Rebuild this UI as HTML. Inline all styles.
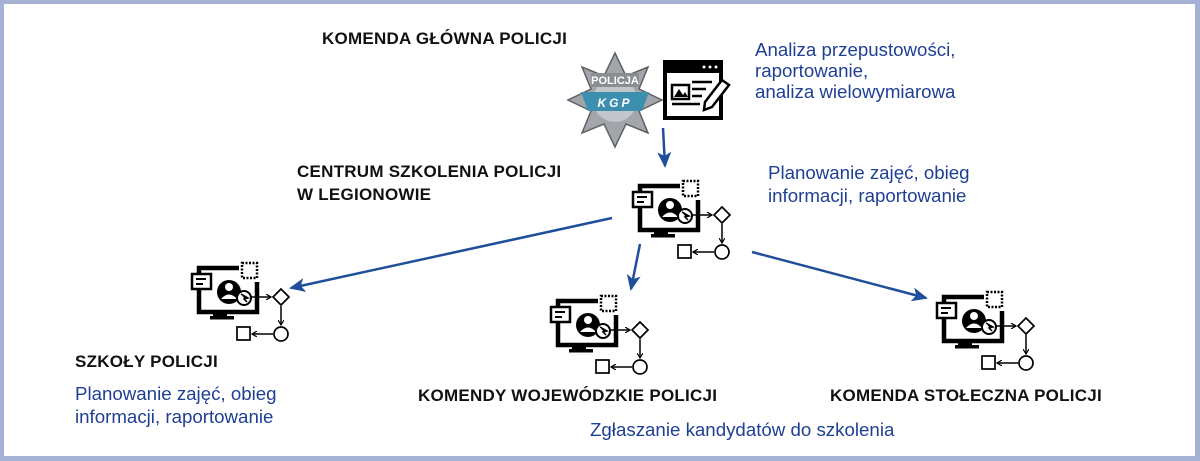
<!DOCTYPE html>
<html><head><meta charset="utf-8"><style>
html,body{margin:0;padding:0;}
body{width:1200px;height:461px;overflow:hidden;background:#fff;position:relative;font-family:"Liberation Sans",sans-serif;}
.frame{position:absolute;left:0;top:0;width:1200px;height:461px;box-sizing:border-box;border-left:4px solid #a5b2d5;border-top:4px solid #a5b2d5;border-right:5px solid #a5b2d5;border-bottom:5px solid #a5b2d5;}
.t{position:absolute;white-space:nowrap;}
.b{font-weight:bold;font-size:17px;letter-spacing:0.25px;color:#111;}
.bl{font-size:18.7px;letter-spacing:0;color:#1f3f94;line-height:21px;}
</style></head><body>
<div class="frame"></div>
<svg width="1200" height="461" style="position:absolute;left:0;top:0">
<defs>
<marker id="ah" markerWidth="16" markerHeight="14" refX="14" refY="7" orient="auto" markerUnits="userSpaceOnUse" viewBox="0 0 16 14"><path d="M0,0 L16,7 L0,14 L4,7z" fill="#1f4e9a"/></marker>
<marker id="sa" markerWidth="6" markerHeight="6" refX="5" refY="3" orient="auto" markerUnits="userSpaceOnUse"><path d="M0,0 L5,3 L0,6" fill="none" stroke="#000" stroke-width="1.2"/></marker>
<g id="ic">
<rect x="683" y="181" width="15" height="15" fill="none" stroke="#000" stroke-width="2.5" stroke-dasharray="2,1.5"/>
<path d="M680,186 H640 V230 H698 V200" fill="none" stroke="#000" stroke-width="4.5"/>
<rect x="654" y="230" width="14" height="5" fill="#000"/>
<rect x="651" y="234" width="24" height="3.5" fill="#000"/>
<rect x="633" y="192" width="19" height="15" fill="#fff" stroke="#000" stroke-width="2.5"/>
<line x1="637" y1="197" x2="647" y2="197" stroke="#000" stroke-width="2"/>
<line x1="637" y1="202" x2="644" y2="202" stroke="#000" stroke-width="2"/>
<circle cx="670" cy="210" r="12" fill="#000"/>
<circle cx="670" cy="205" r="4" fill="#fff"/>
<path d="M662,217 Q670,208 678,217z" fill="#fff"/>
<circle cx="685" cy="216" r="7" fill="#fff" stroke="#000" stroke-width="2"/>
<path d="M682,212 L689,216 L685,217 L688,220" fill="#000" stroke="#000" stroke-width="1.5"/>
<line x1="692" y1="215" x2="712" y2="215" stroke="#000" stroke-width="1.5" marker-end="url(#sa)"/>
<path d="M722,207 L730,215 L722,223 L714,215z" fill="#fff" stroke="#000" stroke-width="1.7"/>
<line x1="722" y1="224" x2="722" y2="243" stroke="#000" stroke-width="1.5" marker-end="url(#sa)"/>
<circle cx="722" cy="252" r="7" fill="#fff" stroke="#000" stroke-width="1.7"/>
<line x1="714" y1="252" x2="693" y2="252" stroke="#000" stroke-width="1.5" marker-end="url(#sa)"/>
<rect x="678" y="245" width="13" height="13" fill="#fff" stroke="#000" stroke-width="1.7"/>
</g>
</defs>
<use href="#ic"/>
<use href="#ic" transform="translate(-441,82)"/>
<use href="#ic" transform="translate(-82,115)"/>
<use href="#ic" transform="translate(304,111)"/>
<g transform="translate(615,100)">
<polygon points="0,-47 11,-24 33,-33 24,-11 47,0 24,11 33,33 11,24 0,47 -11,24 -33,33 -24,11 -47,0 -24,-11 -33,-33 -11,-24" fill="#a2a6ab" stroke="#5e6266" stroke-width="1.5"/>
<circle r="22" fill="#c3c6ca"/>
<rect x="-24" y="-27" width="48" height="14" fill="#8a8e92"/>
<text x="0" y="-16" font-size="11" font-family="Liberation Sans" fill="#fff" text-anchor="middle" font-weight="bold">POLICJA</text>
<path d="M-34,-8 L34,-8 L27,11 L-27,11z" fill="#3d8fb0"/>
<text x="0" y="7" font-size="12" font-family="Liberation Sans" fill="#fff" text-anchor="middle" font-weight="bold" font-style="italic" letter-spacing="3">KGP</text>
</g>
<rect x="663" y="60" width="60" height="60" fill="#000"/>
<rect x="667" y="73" width="52" height="43" fill="#fff"/>
<circle cx="704" cy="67" r="1.5" fill="#fff"/><circle cx="710" cy="67" r="1.5" fill="#fff"/><circle cx="716" cy="67" r="1.5" fill="#fff"/>
<rect x="672" y="85" width="17" height="14" fill="none" stroke="#000" stroke-width="2.5"/>
<path d="M674,97 L679,89 L683,95 L685,92 L688,97z" fill="#000"/>
<line x1="692" y1="82" x2="712" y2="82" stroke="#000" stroke-width="2.5"/>
<line x1="692" y1="89" x2="706" y2="89" stroke="#000" stroke-width="2.5"/>
<line x1="692" y1="96" x2="702" y2="96" stroke="#000" stroke-width="2.5"/>
<line x1="672" y1="104" x2="700" y2="104" stroke="#000" stroke-width="2.5"/>
<path d="M722,80 L729,85 L712,107 L704,110 L705,102z" fill="#fff" stroke="#000" stroke-width="2.5"/>
<g stroke="#1f4e9a" stroke-width="2.5" fill="none">
<line x1="663" y1="128" x2="665" y2="166" marker-end="url(#ah)"/>
<line x1="612" y1="218" x2="291" y2="288" marker-end="url(#ah)"/>
<line x1="640" y1="244" x2="631" y2="289" marker-end="url(#ah)"/>
<line x1="752" y1="252" x2="926" y2="298" marker-end="url(#ah)"/>
</g>
</svg>
<div class="t b" style="left:322px;top:29px">KOMENDA GŁÓWNA POLICJI</div>
<div class="t bl" style="left:755px;top:39px">Analiza przepustowości,<br>raportowanie,<br>analiza wielowymiarowa</div>
<div class="t b" style="left:297px;top:160px;line-height:23px">CENTRUM SZKOLENIA POLICJI<br>W LEGIONOWIE</div>
<div class="t bl" style="left:768px;top:161px;line-height:23px">Planowanie zajęć, obieg<br>informacji, raportowanie</div>
<div class="t b" style="left:75px;top:352px">SZKOŁY POLICJI</div>
<div class="t bl" style="left:75px;top:382px;line-height:23px">Planowanie zajęć, obieg<br>informacji, raportowanie</div>
<div class="t b" style="left:418px;top:386px">KOMENDY WOJEWÓDZKIE POLICJI</div>
<div class="t bl" style="left:590px;top:419px">Zgłaszanie kandydatów do szkolenia</div>
<div class="t b" style="left:830px;top:386px">KOMENDA STOŁECZNA POLICJI</div>
</body></html>
